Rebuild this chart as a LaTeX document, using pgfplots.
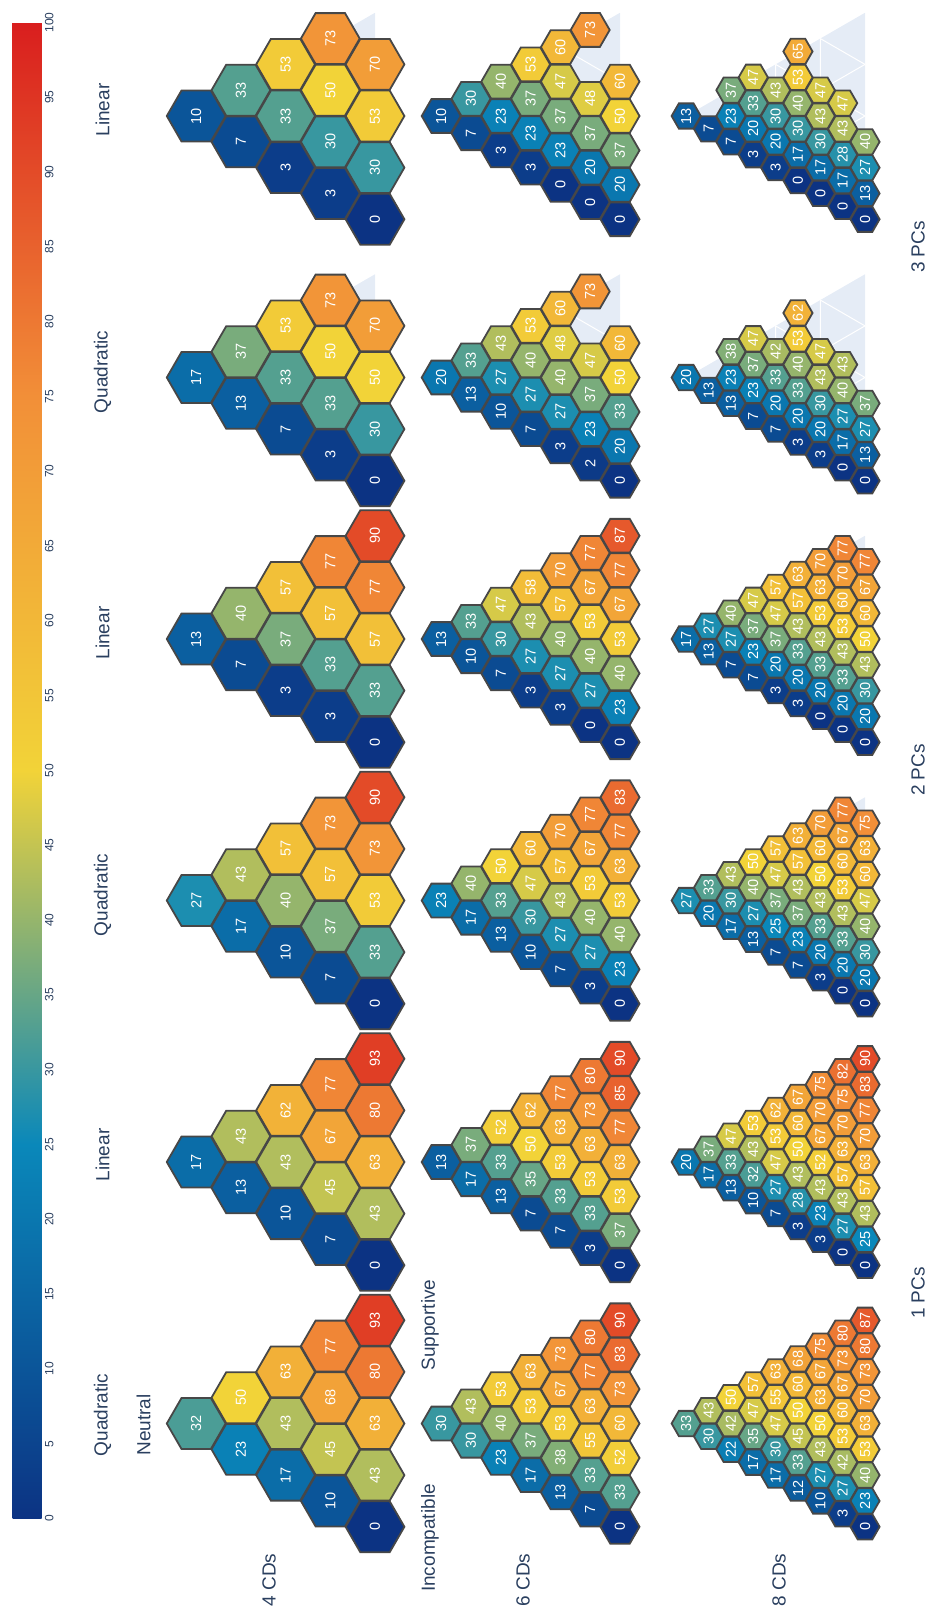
\documentclass[border=0pt]{standalone}
\usepackage{pgfplots}
\pgfplotsset{compat=1.18}
\usepackage{pgfplotstable}
\usepackage{fontspec}
\setmainfont{Liberation Sans}
\definecolor{txt}{HTML}{2A3F5F}
\definecolor{hexborder}{HTML}{474747}
\definecolor{ternbg}{HTML}{E5ECF6}

\pgfdeclareplotmark{hexa}{%
  \pgfpathmoveto{\pgfqpoint{\pgfplotmarksize}{0pt}}%
  \pgfpathlineto{\pgfqpoint{0.5\pgfplotmarksize}{0.8660254\pgfplotmarksize}}%
  \pgfpathlineto{\pgfqpoint{-0.5\pgfplotmarksize}{0.8660254\pgfplotmarksize}}%
  \pgfpathlineto{\pgfqpoint{-\pgfplotmarksize}{0pt}}%
  \pgfpathlineto{\pgfqpoint{-0.5\pgfplotmarksize}{-0.8660254\pgfplotmarksize}}%
  \pgfpathlineto{\pgfqpoint{0.5\pgfplotmarksize}{-0.8660254\pgfplotmarksize}}%
  \pgfpathclose
  \pgfusepathqfillstroke}

\def\TL{206.5}
\def\TH{178.8}

\newcommand\TernBG[2]{%
  \pgfmathsetmacro\myTya{#2-\TL/2}\pgfmathsetmacro\myTyb{#2+\TL/2}\pgfmathsetmacro\myTxc{#1-\TH}%
  \edef\myTemp{\noexpand\fill[ternbg] (axis cs:#1,\myTya) -- (axis cs:#1,\myTyb) -- (axis cs:\myTxc,#2) -- cycle;}\myTemp}
\newcommand\TernGrid[3]{%
  \pgfmathsetmacro\myGxa{#1-#3*\TH}\pgfmathsetmacro\myGya{#2-(1-#3)*\TL/2}\pgfmathsetmacro\myGyb{#2+(1-#3)*\TL/2}%
  \pgfmathsetmacro\mySya{#2+(0.5-#3)*\TL}\pgfmathsetmacro\mySxb{#1-(1-#3)*\TH}\pgfmathsetmacro\mySyb{#2-#3*\TL/2}%
  \pgfmathsetmacro\myIya{#2+(#3-0.5)*\TL}\pgfmathsetmacro\myIyb{#2+#3*\TL/2}%
  \edef\myTemp{\noexpand\draw[white, line width=1pt] (axis cs:\myGxa,\myGya) -- (axis cs:\myGxa,\myGyb) (axis cs:#1,\mySya) -- (axis cs:\mySxb,\mySyb) (axis cs:#1,\myIya) -- (axis cs:\mySxb,\myIyb);}\myTemp}

\pgfplotsset{
  hexplot/.style={scatter, only marks, mark=hexa, scatter src=explicit,
    scatter/use mapped color={draw=hexborder, fill=mapped color, line width=1.8pt},
    nodes near coords*={\pgfmathprintnumber{\pgfplotspointmeta}},
    every node near coord/.append style={rotate=90, anchor=center, text=white, inner sep=0pt, font=\fontsize{#1}{#1}\selectfont}},
}
\newcommand\HexPanel[5]{%
  \addplot[hexplot=14.5, mark size=#4pt] table[x expr={#1-\thisrow{c}*\TH/#3}, y expr={#2+((#3-\thisrow{c})/2-\thisrow{k})*\TL/#3}, meta=v] {#5};}

% ---------- 4 CDs (N=4) ----------
\pgfplotstableread[row sep=\\]{c k v\\
0 0 0\\0 1 43\\0 2 63\\0 3 80\\0 4 93\\1 0 10\\1 1 45\\1 2 68\\1 3 77\\2 0 17\\2 1 43\\2 2 63\\3 0 23\\3 1 50\\4 0 32\\}\tAa
\pgfplotstableread[row sep=\\]{c k v\\
0 0 0\\0 1 43\\0 2 63\\0 3 80\\0 4 93\\1 0 7\\1 1 45\\1 2 67\\1 3 77\\2 0 10\\2 1 43\\2 2 62\\3 0 13\\3 1 43\\4 0 17\\}\tAb
\pgfplotstableread[row sep=\\]{c k v\\
0 0 0\\0 1 33\\0 2 53\\0 3 73\\0 4 90\\1 0 7\\1 1 37\\1 2 57\\1 3 73\\2 0 10\\2 1 40\\2 2 57\\3 0 17\\3 1 43\\4 0 27\\}\tAc
\pgfplotstableread[row sep=\\]{c k v\\
0 0 0\\0 1 33\\0 2 57\\0 3 77\\0 4 90\\1 0 3\\1 1 33\\1 2 57\\1 3 77\\2 0 3\\2 1 37\\2 2 57\\3 0 7\\3 1 40\\4 0 13\\}\tAd
\pgfplotstableread[row sep=\\]{c k v\\
0 0 0\\0 1 30\\0 2 50\\0 3 70\\1 0 3\\1 1 33\\1 2 50\\1 3 73\\2 0 7\\2 1 33\\2 2 53\\3 0 13\\3 1 37\\4 0 17\\}\tAe
\pgfplotstableread[row sep=\\]{c k v\\
0 0 0\\0 1 30\\0 2 53\\0 3 70\\1 0 3\\1 1 30\\1 2 50\\1 3 73\\2 0 3\\2 1 33\\2 2 53\\3 0 7\\3 1 33\\4 0 10\\}\tAf
% ---------- 6 CDs (N=6) ----------
\pgfplotstableread[row sep=\\]{c k v\\
0 0 0\\0 1 33\\0 2 52\\0 3 60\\0 4 73\\0 5 83\\0 6 90\\
1 0 7\\1 1 33\\1 2 55\\1 3 63\\1 4 77\\1 5 80\\
2 0 13\\2 1 38\\2 2 53\\2 3 67\\2 4 73\\
3 0 17\\3 1 37\\3 2 53\\3 3 63\\
4 0 23\\4 1 40\\4 2 53\\5 0 30\\5 1 43\\6 0 30\\}\tBa
\pgfplotstableread[row sep=\\]{c k v\\
0 0 0\\0 1 37\\0 2 53\\0 3 63\\0 4 77\\0 5 85\\0 6 90\\
1 0 3\\1 1 33\\1 2 53\\1 3 63\\1 4 73\\1 5 80\\
2 0 7\\2 1 33\\2 2 53\\2 3 63\\2 4 77\\
3 0 7\\3 1 35\\3 2 50\\3 3 62\\
4 0 13\\4 1 33\\4 2 52\\5 0 17\\5 1 37\\6 0 13\\}\tBb
\pgfplotstableread[row sep=\\]{c k v\\
0 0 0\\0 1 23\\0 2 40\\0 3 53\\0 4 63\\0 5 77\\0 6 83\\
1 0 3\\1 1 27\\1 2 40\\1 3 53\\1 4 67\\1 5 77\\
2 0 7\\2 1 27\\2 2 43\\2 3 57\\2 4 70\\
3 0 10\\3 1 30\\3 2 47\\3 3 60\\
4 0 13\\4 1 33\\4 2 50\\5 0 17\\5 1 40\\6 0 23\\}\tBc
\pgfplotstableread[row sep=\\]{c k v\\
0 0 0\\0 1 23\\0 2 40\\0 3 53\\0 4 67\\0 5 77\\0 6 87\\
1 0 0\\1 1 27\\1 2 40\\1 3 53\\1 4 67\\1 5 77\\
2 0 3\\2 1 27\\2 2 40\\2 3 57\\2 4 70\\
3 0 3\\3 1 27\\3 2 43\\3 3 58\\
4 0 7\\4 1 30\\4 2 47\\5 0 10\\5 1 33\\6 0 13\\}\tBd
\pgfplotstableread[row sep=\\]{c k v\\
0 0 0\\0 1 20\\0 2 33\\0 3 50\\0 4 60\\
1 0 2\\1 1 23\\1 2 37\\1 3 47\\1 5 73\\
2 0 3\\2 1 27\\2 2 40\\2 3 48\\2 4 60\\
3 0 7\\3 1 27\\3 2 40\\3 3 53\\
4 0 10\\4 1 27\\4 2 43\\5 0 13\\5 1 33\\6 0 20\\}\tBe
\pgfplotstableread[row sep=\\]{c k v\\
0 0 0\\0 1 20\\0 2 37\\0 3 50\\0 4 60\\
1 0 0\\1 1 20\\1 2 37\\1 3 48\\1 5 73\\
2 0 0\\2 1 23\\2 2 37\\2 3 47\\2 4 60\\
3 0 3\\3 1 23\\3 2 37\\3 3 53\\
4 0 3\\4 1 23\\4 2 40\\5 0 7\\5 1 30\\6 0 10\\}\tBf
% ---------- 8 CDs (N=8) ----------
\pgfplotstableread[row sep=\\]{c k v\\
0 0 0\\0 1 23\\0 2 40\\0 3 53\\0 4 63\\0 5 70\\0 6 73\\0 7 80\\0 8 87\\
1 0 3\\1 1 27\\1 2 42\\1 3 53\\1 4 60\\1 5 67\\1 6 73\\1 7 80\\
2 0 10\\2 1 27\\2 2 43\\2 3 50\\2 4 63\\2 5 67\\2 6 75\\
3 0 12\\3 1 33\\3 2 45\\3 3 50\\3 4 60\\3 5 68\\
4 0 17\\4 1 30\\4 2 47\\4 3 55\\4 4 63\\
5 0 17\\5 1 35\\5 2 47\\5 3 57\\
6 0 22\\6 1 42\\6 2 50\\7 0 30\\7 1 43\\8 0 33\\}\tCa
\pgfplotstableread[row sep=\\]{c k v\\
0 0 0\\0 1 25\\0 2 43\\0 3 57\\0 4 63\\0 5 70\\0 6 77\\0 7 83\\0 8 90\\
1 0 0\\1 1 27\\1 2 43\\1 3 57\\1 4 63\\1 5 70\\1 6 75\\1 7 82\\
2 0 3\\2 1 23\\2 2 43\\2 3 52\\2 4 67\\2 5 70\\2 6 75\\
3 0 3\\3 1 28\\3 2 43\\3 3 50\\3 4 60\\3 5 67\\
4 0 7\\4 1 27\\4 2 47\\4 3 53\\4 4 62\\
5 0 10\\5 1 32\\5 2 43\\5 3 53\\
6 0 13\\6 1 33\\6 2 47\\7 0 17\\7 1 37\\8 0 20\\}\tCb
\pgfplotstableread[row sep=\\]{c k v\\
0 0 0\\0 1 20\\0 2 30\\0 3 40\\0 4 47\\0 5 60\\0 6 63\\0 7 75\\
1 0 0\\1 1 20\\1 2 33\\1 3 43\\1 4 53\\1 5 60\\1 6 67\\1 7 77\\
2 0 3\\2 1 20\\2 2 33\\2 3 43\\2 4 50\\2 5 60\\2 6 70\\
3 0 7\\3 1 23\\3 2 37\\3 3 43\\3 4 57\\3 5 63\\
4 0 7\\4 1 25\\4 2 37\\4 3 47\\4 4 57\\
5 0 13\\5 1 27\\5 2 40\\5 3 50\\
6 0 17\\6 1 30\\6 2 43\\7 0 20\\7 1 33\\8 0 27\\}\tCc
\pgfplotstableread[row sep=\\]{c k v\\
0 0 0\\0 1 20\\0 2 30\\0 3 43\\0 4 50\\0 5 60\\0 6 67\\0 7 77\\
1 0 0\\1 1 20\\1 2 33\\1 3 43\\1 4 53\\1 5 60\\1 6 70\\1 7 77\\
2 0 0\\2 1 20\\2 2 33\\2 3 43\\2 4 53\\2 5 63\\2 6 70\\
3 0 3\\3 1 20\\3 2 33\\3 3 43\\3 4 57\\3 5 63\\
4 0 3\\4 1 20\\4 2 37\\4 3 47\\4 4 57\\
5 0 7\\5 1 23\\5 2 37\\5 3 47\\
6 0 7\\6 1 27\\6 2 40\\7 0 13\\7 1 27\\8 0 17\\}\tCd
\pgfplotstableread[row sep=\\]{c k v\\
0 0 0\\0 1 13\\0 2 27\\0 3 37\\
1 0 0\\1 1 17\\1 2 27\\1 3 40\\1 4 43\\
2 0 3\\2 1 20\\2 2 30\\2 3 43\\2 4 47\\
3 0 3\\3 1 20\\3 2 33\\3 3 40\\3 4 53\\3 5 62\\
4 0 7\\4 1 20\\4 2 33\\4 3 42\\
5 0 7\\5 1 23\\5 2 37\\5 3 47\\
6 0 13\\6 1 23\\6 2 38\\7 0 13\\8 0 20\\}\tCe
\pgfplotstableread[row sep=\\]{c k v\\
0 0 0\\0 1 13\\0 2 27\\0 3 40\\
1 0 0\\1 1 17\\1 2 28\\1 3 43\\1 4 47\\
2 0 0\\2 1 17\\2 2 30\\2 3 43\\2 4 47\\
3 0 0\\3 1 17\\3 2 30\\3 3 40\\3 4 53\\3 5 65\\
4 0 3\\4 1 20\\4 2 30\\4 3 43\\
5 0 3\\5 1 20\\5 2 33\\5 3 47\\
6 0 7\\6 1 23\\6 2 37\\7 0 7\\8 0 13\\}\tCf

\begin{document}
\begin{tikzpicture}
\begin{axis}[
  scale only axis, width=930pt, height=1607pt,
  xmin=0, xmax=930, ymin=0, ymax=1607, y dir=reverse,
  hide axis, clip=false,
  /pgf/number format/assume math mode=true,
  colormap={portland}{rgb255=(12,51,131) rgb255=(10,136,186) rgb255=(242,211,56) rgb255=(242,143,56) rgb255=(217,30,30)},
  point meta min=0, point meta max=100,
  colorbar,
  colorbar/width=29pt,
  colorbar style={
    at={(parent axis.north west)}, anchor=north west,
    xshift=4pt, yshift=-22.5pt,
    scale only axis, width=29pt, height=1496pt,
    ytick={0,5,...,100},
    yticklabel style={rotate=90, anchor=north, font=\fontsize{12}{12}\selectfont, text=txt, /pgf/number format/assume math mode=true},
    major tick length=0pt,
    axis line style={draw=none},
  },
]
\path (axis cs:0,0) rectangle (axis cs:930,1607);
% ternary backgrounds
\TernBG{375}{1423.5}\TernBG{375}{1162}\TernBG{375}{900.5}\TernBG{375}{639}\TernBG{375}{377.5}\TernBG{375}{116}
\TernBG{620}{1423.5}\TernBG{620}{1162}\TernBG{620}{900.5}\TernBG{620}{639}\TernBG{620}{377.5}\TernBG{620}{116}
\TernBG{865}{1423.5}\TernBG{865}{1162}\TernBG{865}{900.5}\TernBG{865}{639}\TernBG{865}{377.5}\TernBG{865}{116}
\TernGrid{375}{377.5}{0.5}\TernGrid{375}{116}{0.5}
\TernGrid{620}{377.5}{0.33333}\TernGrid{620}{377.5}{0.66667}\TernGrid{620}{116}{0.33333}\TernGrid{620}{116}{0.66667}
\TernGrid{865}{377.5}{0.25}\TernGrid{865}{377.5}{0.5}\TernGrid{865}{377.5}{0.75}
\TernGrid{865}{116}{0.25}\TernGrid{865}{116}{0.5}\TernGrid{865}{116}{0.75}
\TernGrid{865}{900.5}{0.75}\TernGrid{865}{639}{0.75}
% hex panels
\HexPanel{375}{1423.5}{4}{29.4}{\tAa}
\HexPanel{375}{1162}{4}{29.4}{\tAb}
\HexPanel{375}{900.5}{4}{29.4}{\tAc}
\HexPanel{375}{639}{4}{29.4}{\tAd}
\HexPanel{375}{377.5}{4}{29.4}{\tAe}
\HexPanel{375}{116}{4}{29.4}{\tAf}
\HexPanel{620}{1423.5}{6}{19.5}{\tBa}
\HexPanel{620}{1162}{6}{19.5}{\tBb}
\HexPanel{620}{900.5}{6}{19.5}{\tBc}
\HexPanel{620}{639}{6}{19.5}{\tBd}
\HexPanel{620}{377.5}{6}{19.5}{\tBe}
\HexPanel{620}{116}{6}{19.5}{\tBf}
\HexPanel{865}{1423.5}{8}{14.6}{\tCa}
\HexPanel{865}{1162}{8}{14.6}{\tCb}
\HexPanel{865}{900.5}{8}{14.6}{\tCc}
\HexPanel{865}{639}{8}{14.6}{\tCd}
\HexPanel{865}{377.5}{8}{14.6}{\tCe}
\HexPanel{865}{116}{8}{14.6}{\tCf}
% titles and labels
\begin{scope}[every node/.style={rotate=90, text=txt, font=\fontsize{19}{19}\selectfont, inner sep=0pt}]
\node at (axis cs:102.5,1415) {Quadratic};
\node at (axis cs:102.5,1155) {Linear};
\node at (axis cs:102.5,895) {Quadratic};
\node at (axis cs:102.5,633) {Linear};
\node at (axis cs:102.5,372) {Quadratic};
\node at (axis cs:102.5,110) {Linear};
\node at (axis cs:143.5,1425) {Neutral};
\node at (axis cs:430,1538) {Incompatible};
\node at (axis cs:430,1325) {Supportive};
\node at (axis cs:269,1580) {4 CDs};
\node at (axis cs:523,1580) {6 CDs};
\node at (axis cs:779,1580) {8 CDs};
\node at (axis cs:918,1293) {1 PCs};
\node at (axis cs:918,770) {2 PCs};
\node at (axis cs:918,247) {3 PCs};
\end{scope}
\end{axis}
\end{tikzpicture}
\end{document}
